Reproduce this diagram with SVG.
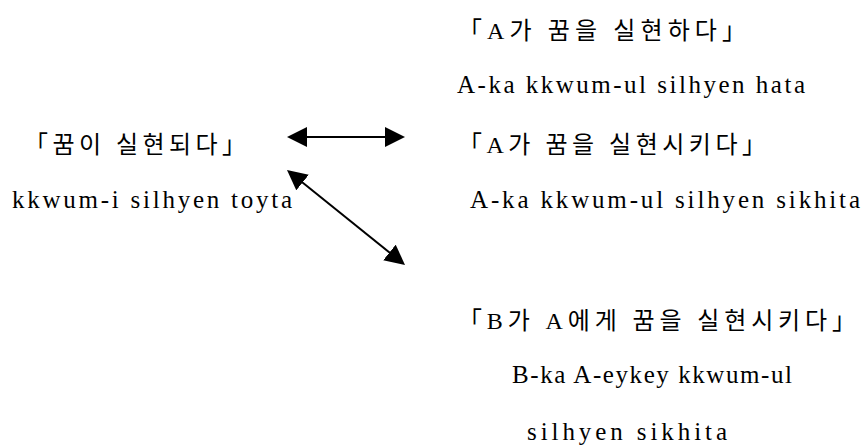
<svg xmlns="http://www.w3.org/2000/svg" width="866" height="446" viewBox="0 0 866 446">
<style>
.ko{font-family:"Liberation Serif","Noto Sans CJK KR",serif;font-size:24px;fill:#000}
.ro{font-family:"Liberation Serif",serif;font-size:25px;fill:#000}
.conn{stroke:#000;stroke-width:2;fill:none}
</style>
<defs>
<marker id="ah" viewBox="0 0 20 20" refX="16" refY="10" markerWidth="20" markerHeight="20" markerUnits="userSpaceOnUse" orient="auto-start-reverse">
<path d="M0,0 L20,10 L0,20 z" fill="#000"/>
</marker>
</defs>
<rect width="866" height="446" fill="#fff"/>
<g id="node-hata">
<text class="ko" x="458" y="39" textLength="288" lengthAdjust="spacing">「A가 꿈을 실현하다」</text>
<text class="ro" x="457" y="93" textLength="348" lengthAdjust="spacing">A-ka kkwum-ul silhyen hata</text>
</g>
<g id="node-toyta">
<text class="ko" x="24" y="153" textLength="222" lengthAdjust="spacing">「꿈이 실현되다」</text>
<text class="ro" x="12" y="208" textLength="280" lengthAdjust="spacing">kkwum-i silhyen toyta</text>
</g>
<g id="node-sikhita">
<text class="ko" x="458" y="153" textLength="308" lengthAdjust="spacing">「A가 꿈을 실현시키다」</text>
<text class="ro" x="470" y="208" textLength="390" lengthAdjust="spacing">A-ka kkwum-ul silhyen sikhita</text>
</g>
<g id="node-B-sikhita">
<text class="ko" x="458" y="329" textLength="398" lengthAdjust="spacing">「B가 A에게 꿈을 실현시키다」</text>
<text class="ro" x="512" y="383" textLength="280" lengthAdjust="spacing">B-ka A-eykey kkwum-ul</text>
<text class="ro" x="527" y="440" textLength="200" lengthAdjust="spacing">silhyen sikhita</text>
</g>
<g id="connectors">
<line class="conn" x1="291" y1="137" x2="401" y2="137" marker-start="url(#ah)" marker-end="url(#ah)"/>
<line class="conn" x1="290.1" y1="172.5" x2="401.9" y2="262.5" marker-start="url(#ah)" marker-end="url(#ah)"/>
</g>
</svg>
